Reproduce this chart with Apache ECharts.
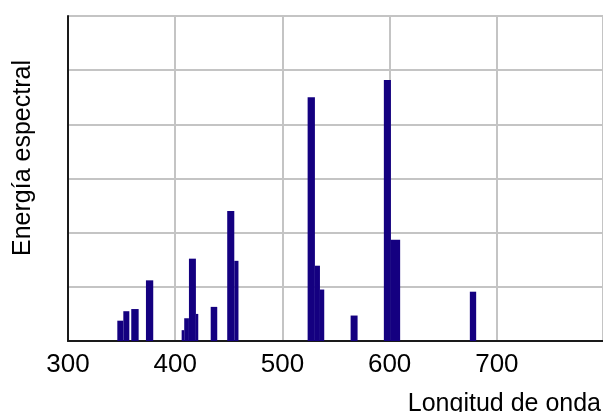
<!DOCTYPE html>
<html>
<head>
<meta charset="utf-8">
<title>Energía espectral</title>
<script src="https://cdn.jsdelivr.net/npm/echarts@6/dist/echarts.min.js"></script>
<style>
  html, body { margin: 0; padding: 0; background: #ffffff; }
  #chart { width: 603px; height: 412px; }
</style>
</head>
<body>
<div id="chart"></div>
<script>
// Spectral emission bands: start / end wavelength (nm) and relative energy
const bandStart = [346.0, 351.6, 359.0, 372.7, 406.0, 408.4, 412.8, 419.3, 433.1,
                   448.5, 455.1, 523.5, 530.3, 535.0, 563.6, 594.6, 601.2, 674.8];
const bandEnd   = [351.6, 357.2, 365.9, 379.5, 408.4, 412.8, 419.3, 421.5, 439.2,
                   455.1, 459.0, 530.3, 535.0, 539.0, 570.1, 601.2, 609.8, 680.7];
const energy    = [3.75, 5.5, 5.9, 11.2, 2.0, 4.2, 15.2, 5.0, 6.3,
                   24.0, 14.8, 45.0, 13.9, 9.5, 4.7, 48.2, 18.7, 9.1];
const xTicks = [300, 400, 500, 600, 700];

const FONT = "'Liberation Sans', Arial, sans-serif";
const BAR_COLOR = '#140080';

const bands = bandStart.map((s, i) => [s, bandEnd[i], energy[i]]);

const chart = echarts.init(document.getElementById('chart'), null, { renderer: 'canvas' });

chart.setOption({
  animation: false,
  backgroundColor: '#ffffff',
  grid: { left: 68, top: 16, right: 0, bottom: 71, containLabel: false },
  xAxis: {
    type: 'value',
    min: 300,
    max: 799,
    interval: 100,
    axisLine: { show: true, onZero: false, lineStyle: { color: '#1a1a1a', width: 2 } },
    axisTick: { show: false },
    axisLabel: {
      fontFamily: FONT,
      fontSize: 26,
      color: '#000000',
      margin: 11,
      showMaxLabel: false,
      formatter: v => (xTicks.indexOf(v) >= 0 ? String(v) : '')
    },
    splitLine: { show: true, lineStyle: { color: '#c4c4c4', width: 2 } }
  },
  yAxis: {
    type: 'value',
    min: 0,
    max: 60,
    interval: 10,
    axisLine: { show: true, lineStyle: { color: '#1a1a1a', width: 2 } },
    axisTick: { show: false },
    axisLabel: { show: false },
    splitLine: { show: true, lineStyle: { color: '#c4c4c4', width: 2 } }
  },
  graphic: [
    {
      type: 'text',
      x: 23,
      y: 158,
      rotation: Math.PI / 2,
      style: {
        text: 'Energía espectral',
        fontFamily: FONT,
        fontSize: 25,
        fill: '#000000',
        align: 'center',
        verticalAlign: 'middle'
      }
    },
    {
      type: 'text',
      x: 601,
      y: 404,
      style: {
        text: 'Longitud de onda',
        fontFamily: FONT,
        fontSize: 25,
        fill: '#000000',
        align: 'right',
        verticalAlign: 'middle'
      }
    }
  ],
  series: [
    {
      type: 'custom',
      data: bands,
      encode: { x: [0, 1], y: 2 },
      renderItem: function (params, api) {
        const top = api.coord([api.value(0), api.value(2)]);
        const base = api.coord([api.value(1), 0]);
        return {
          type: 'rect',
          shape: {
            x: top[0],
            y: top[1],
            width: base[0] - top[0],
            height: base[1] - top[1]
          },
          style: { fill: BAR_COLOR }
        };
      }
    }
  ]
});
</script>
</body>
</html>
